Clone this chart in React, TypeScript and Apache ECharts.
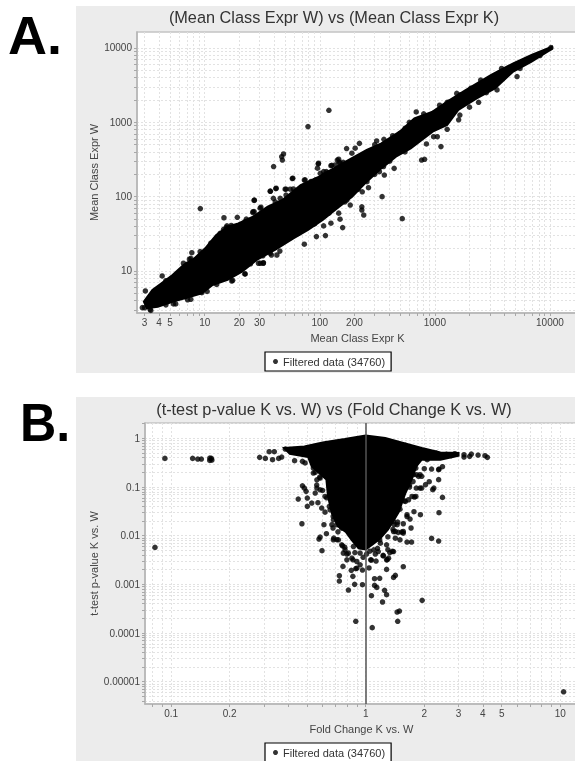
import React, { useEffect, useRef } from "react";
import * as echarts from "echarts";

const LEGEND_NAME = "Filtered data (34760)";
const TITLE_A = "(Mean Class Expr W) vs (Mean Class Expr K)";
const TITLE_B = "(t-test p-value K vs. W) vs (Fold Change K vs. W)";

const xLabelsA = [3, 4, 5, 10, 20, 30, 100, 200, 1000, 10000];
const yLabelsA = [10, 100, 1000, 10000];
const xLabelsB = [0.1, 0.2, 1, 2, 3, 4, 5, 10];
const yLabelsB = [1, 0.1, 0.01, 0.001, 0.0001, 0.00001];

const gridValuesA = [3, 4, 5, 6, 7, 8, 9, 10, 20, 30, 40, 50, 60, 70, 80, 90, 100, 200, 300, 400, 500, 600, 700, 800, 900, 1000, 2000, 3000, 4000, 5000, 6000, 7000, 8000, 9000, 10000];
const gridYValuesA = [3, 4, 5, 6, 7, 8, 9, 10, 20, 30, 40, 50, 60, 70, 80, 90, 100, 200, 300, 400, 500, 600, 700, 800, 900, 1000, 2000, 3000, 4000, 5000, 6000, 7000, 8000, 9000, 10000];
const gridXValuesB = [0.08, 0.09, 0.1, 0.2, 0.3, 0.4, 0.5, 0.6, 0.7, 0.8, 0.9, 1, 2, 3, 4, 5, 6, 7, 8, 9, 10];
const gridYValuesB = [
  1, 2, 0.9, 0.8, 0.7, 0.6, 0.5, 0.4, 0.3, 0.2, 0.1, 0.09, 0.08, 0.07, 0.06, 0.05, 0.04, 0.03, 0.02, 0.01,
  0.009, 0.008, 0.007, 0.006, 0.005, 0.004, 0.003, 0.002, 0.001, 0.0009, 0.0008, 0.0007, 0.0006, 0.0005,
  0.0004, 0.0003, 0.0002, 0.0001, 0.00009, 0.00008, 0.00007, 0.00006, 0.00005, 0.00004, 0.00003, 0.00002,
  0.00001, 0.000009, 0.000008, 0.000007, 0.000006, 0.000005, 0.000004,
];

// Outline of the solid black mass.
const coreA = [
  [2.96, 3.86], [3.51, 5.55], [4.21, 6.82], [5.25, 8.83], [6.53, 12], [8.15, 14.8], [10.1, 20.2], [12.6, 30.5],
  [15.8, 39.5], [19.6, 43.7], [26.3, 53.8], [35.3, 73.3], [47.3, 90.2], [68.2, 143], [98.6, 186], [132, 240],
  [177, 311], [256, 425], [343, 521], [494, 748], [664, 1130], [957, 1390], [1280, 1900], [1850, 2720],
  [3090, 4330], [4800, 6220], [6930, 8050], [10400, 10400], [10400, 9700], [6930, 6550], [4800, 4810],
  [3330, 2860], [2310, 2100], [1600, 1470], [1280, 920], [957, 748], [617, 447], [459, 345], [343, 240],
  [256, 159], [191, 100], [142, 69.7], [106, 48.5], [79, 35.6], [59, 27.5], [40.8, 19.2], [28.3, 14.1],
  [21.1, 9.8], [15.8, 7.57], [11.7, 6.49], [9.44, 5.01], [7.57, 4.52], [5.25, 3.86], [3.91, 3.31], [3.14, 3.15],
];

const pointsA = [
  [3.05, 5.38], [4.27, 8.57], [9.16, 69], [14.7, 52], [19.2, 52.7], [26.9, 89], [37.2, 118], [41.5, 128],
  [39.7, 254], [47.3, 311], [48.4, 375], [46.7, 345], [79, 875], [120, 1450], [689, 1380], [1130, 471],
  [521, 50.6], [348, 100], [767, 311], [814, 318], [232, 73], [232, 66], [241, 56.6], [158, 38.3], [112, 29.9],
  [93.5, 29], [73.4, 22.9], [171, 443], [221, 521], [312, 561], [361, 590], [57.7, 175], [97, 275], [127, 264],
  [142, 311], [147, 290], [845, 512], [1280, 1860], [4240, 5010], [184, 77], [265, 132], [234, 116], [18.2, 9.31],
  [22.4, 9.12], [30.5, 12.7], [32.3, 12.7], [38, 16.4], [443, 240], [364, 195], [1280, 805], [13.6, 32.1],
  [7.57, 14.8], [7.03, 12.3], [6.39, 9.79], [34, 64], [50.9, 126], [59, 127], [50.9, 105], [26.3, 62.8],
  [18.9, 39.5], [15.4, 38.6], [73.4, 167], [91.6, 167], [108, 195], [114, 217], [3.0, 3.2], [3.4, 2.95],
  [3.3, 3.5], [4.6, 3.5], [5.6, 3.6], [7.1, 4.1], [10.5, 5.3], [12.7, 6.6], [17.5, 7.5], [25, 12.5], [32, 16],
  [45, 18.5], [65, 32], [90, 43], [120, 60], [165, 85], [215, 125], [300, 200], [405, 300], [550, 400], [4.6, 7.4],
  [7.6, 13.4], [11, 21], [17, 41], [23, 50], [41, 85], [60, 115], [84, 160], [118, 210], [160, 290], [300, 500],
  [430, 660], [600, 1000], [800, 1300], [1100, 1700], [1550, 2450], [2500, 3700], [3800, 5300], [10200, 10100],
  [1650, 1250], [2000, 1600], [2800, 2500], [3900, 3900], [5500, 5300], [8200, 7900],
  [6.53, 12.7], [7.36, 14.4], [7.73, 17.6], [9.12, 18.2], [11.3, 23.6], [13.8, 31.2], [14.6, 36.4], [15.6, 40.4],
  [22.4, 46.1], [26.9, 62.8], [30.3, 69.8], [2.87, 3.21], [3.35, 3.05], [5.35, 3.6], [6.76, 4.51], [7.57, 4.16],
  [9.44, 5.11], [11.9, 7.57], [13.6, 7.57], [17.2, 7.33], [22.4, 9.12], [20.3, 10.3], [29.3, 12.7], [32.4, 12.9],
  [37.1, 17.3], [42.4, 16.4], [16.6, 8.57], [12.3, 8.22], [203, 448], [190, 384], [146, 319], [150, 287], [125, 261],
  [136, 267], [97.5, 282], [95.5, 241], [101, 206], [108, 217], [74.6, 168], [88, 151], [58.3, 177], [50, 126],
  [41.8, 130], [37.1, 119], [55.3, 126], [39.5, 95], [27, 90], [30.8, 72], [26.2, 61], [45.3, 95], [257, 159],
  [358, 254], [150, 49.7], [146, 60], [125, 43.9], [108, 40.4], [330, 217], [213, 130], [184, 105], [161, 100],
  [172, 90], [552, 834], [653, 973], [962, 1320], [1320, 1860], [1660, 2340], [2060, 2880], [3470, 4340], [5180, 5800],
  [500, 713], [975, 641], [1050, 641], [1610, 1080], [2400, 1860], [3470, 2730], [5180, 4120],
];

const coreB = [
  [0.381, 0.633], [0.484, 0.685], [0.601, 0.828], [0.78, 0.968], [1, 1.15], [1.26, 1.02], [1.56, 0.802],
  [1.94, 0.633], [2.42, 0.515], [3, 0.5], [3, 0.44], [2.42, 0.365], [1.94, 0.365], [1.82, 0.266], [1.72, 0.142],
  [1.6, 0.0753], [1.48, 0.0311], [1.4, 0.0213], [1.3, 0.0133], [1.18, 0.0085], [1.08, 0.0065], [1, 0.0052],
  [0.92, 0.0055], [0.85, 0.008], [0.79, 0.012], [0.72, 0.0156], [0.67, 0.0292], [0.64, 0.0643],
  [0.628, 0.142], [0.528, 0.266], [0.506, 0.413], [0.407, 0.484],
];

const pointsB = [
  [0.0929, 0.388], [0.0826, 0.00575], [0.129, 0.388], [0.137, 0.376], [0.143, 0.376], [0.158, 0.394], [0.161, 0.388],
  [0.158, 0.353], [0.162, 0.359], [0.285, 0.407], [0.305, 0.388], [0.319, 0.532], [0.339, 0.532], [0.332, 0.365],
  [0.357, 0.388], [0.37, 0.413], [0.386, 0.604], [0.431, 0.348], [0.473, 0.337], [0.45, 0.0567], [0.501, 0.0594],
  [0.501, 0.0401], [0.528, 0.0469], [0.568, 0.0476], [0.473, 0.106], [0.484, 0.0953], [0.494, 0.0815], [0.47, 0.0176],
  [0.61, 0.0168], [0.596, 0.00492], [0.575, 0.00855], [0.583, 0.0094], [0.628, 0.011], [0.67, 0.0168], [0.679, 0.0144],
  [0.685, 0.00895], [0.71, 0.00828], [0.764, 0.00234], [0.732, 0.00151], [0.732, 0.00117], [0.815, 0.000765],
  [0.877, 0.001], [0.962, 0.000985], [0.889, 0.000174], [1.08, 0.000129], [1.46, 0.000174], [1.45, 0.00027],
  [1.49, 0.000283], [1.95, 0.000469], [1.22, 0.000434], [1.07, 0.000585], [1.28, 0.000614], [1.25, 0.000753],
  [1.14, 0.000867], [1.11, 0.000953], [1.11, 0.00131], [1.18, 0.00133], [1.39, 0.00139], [1.42, 0.00153],
  [1.56, 0.00231], [1.28, 0.00203], [1.04, 0.00217], [0.962, 0.00197], [0.889, 0.0021], [0.843, 0.00194],
  [0.859, 0.00146], [1.07, 0.00316], [1.13, 0.00301], [1.29, 0.00321], [1.23, 0.00394], [1.37, 0.00476], [1.3, 0.00515],
  [1.72, 0.00741], [1.63, 0.00741], [2.18, 0.00881], [2.37, 0.00777], [1.56, 0.0113], [1.47, 0.0117], [1.71, 0.0144],
  [1.56, 0.0176], [1.4, 0.0168], [1.91, 0.027], [2.38, 0.0297], [1.77, 0.0311], [1.63, 0.027], [1.69, 0.022],
  [2.48, 0.0613], [1.78, 0.0623], [2.21, 0.0881], [2.12, 0.129], [2.37, 0.142], [2.03, 0.112], [2.24, 0.0953],
  [1.9, 0.0953], [1.81, 0.246], [2.0, 0.238], [2.18, 0.234], [2.38, 0.234], [2.48, 0.262], [1.94, 0.166], [2.07, 0.365],
  [1.82, 0.179], [3.2, 0.413], [3.2, 0.462], [3.49, 0.477], [3.78, 0.455], [4.1, 0.44], [4.22, 0.407], [3.42, 0.427],
  [2.87, 0.484], [10.4, 0.0000062], [0.55, 0.2], [0.58, 0.16], [0.56, 0.11], [0.6, 0.085], [0.63, 0.06], [0.65, 0.04],
  [0.68, 0.025], [0.72, 0.012], [0.76, 0.0062], [0.8, 0.0042], [0.78, 0.0058], [0.86, 0.0032], [1.15, 0.0055],
  [1.18, 0.0082], [1.3, 0.0095], [1.38, 0.0135], [1.46, 0.019], [1.5, 0.035], [1.58, 0.052], [1.68, 0.1], [1.75, 0.13],
  [0.594, 0.037], [0.618, 0.0305], [0.538, 0.246], [0.538, 0.194], [0.561, 0.141], [0.583, 0.153], [0.607, 0.337],
  [0.618, 0.265], [0.583, 0.0879], [0.561, 0.0955], [0.55, 0.0753], [0.618, 0.0641], [0.656, 0.0341], [0.682, 0.0212],
  [0.71, 0.0168], [0.753, 0.0143], [0.488, 0.312], [0.469, 0.501], [0.538, 0.395], [0.583, 0.462], [2.37, 0.227],
  [1.87, 0.165], [1.76, 0.179], [1.66, 0.0548], [1.81, 0.0641], [1.63, 0.0248], [1.39, 0.0196], [1.45, 0.0168],
  [1.42, 0.0122], [1.53, 0.0119], [1.94, 0.0955], [1.73, 0.0641], [1.6, 0.0506], [1.42, 0.0341], [1.33, 0.0269],
  [1.68, 0.111], [1.82, 0.0955], [1.69, 0.288], [1.9, 0.179], [0.682, 0.00824], [0.724, 0.00824], [0.767, 0.00439],
  [0.8, 0.00319], [0.815, 0.00439], [0.849, 0.00346], [0.9, 0.00295], [0.936, 0.00252], [0.9, 0.00215], [1.06, 0.00319],
  [1.28, 0.00319], [1.23, 0.00385], [1.31, 0.00346], [1.39, 0.00473], [1.33, 0.00451], [1.1, 0.00513], [1.16, 0.00473],
  [1.19, 0.00703], [1.28, 0.0065], [1.42, 0.0089], [1.5, 0.00824], [1.56, 0.0122], [1.39, 0.0122], [1.14, 0.0104],
  [0.753, 0.0065], [0.783, 0.00513], [0.865, 0.006], [0.936, 0.00439], [0.936, 0.006], [2.6, 0.47], [2.3, 0.5],
  [2.75, 0.44], [1.6, 0.72], [1.01, 0.0042], [0.97, 0.0036], [1.05, 0.0048], [0.88, 0.0045], [1.12, 0.0042],
];

const axisCommon = (labels: number[], gridValues: number[], min: number, max: number, name: string, nameGap: number, dim: string) => ({
  type: "log",
  logBase: 10,
  min,
  max,
  name,
  nameLocation: "middle",
  nameGap,
  nameMoveOverlap: false,
  nameTextStyle: { fontFamily: "Liberation Sans", fontSize: 11, color: "#444" },
  axisLine: { show: true, onZero: false, lineStyle: { color: "#b4b4b4", width: 1.5 } },
  axisTick: { show: true, length: 3, lineStyle: { color: "#a8a8a8" }, customValues: gridValues },
  axisLabel: {
    show: true,
    customValues: labels,
    hideOverlap: false,
    showMinLabel: true,
    showMaxLabel: true,
    margin: dim === "x" ? 4 : 5,
    fontFamily: "Liberation Sans",
    fontSize: 10,
    color: "#444",
    formatter: (v: number) => String(labels.reduce((a, b) => (Math.abs(Math.log10(b) - Math.log10(v)) < Math.abs(Math.log10(a) - Math.log10(v)) ? b : a))),
  },
  splitLine: { show: true, lineStyle: { color: "#e2e2e2", type: [2, 2], width: 1 } },
  minorTick: { show: false },
  minorSplitLine: { show: false },
});

const coreSeries = (core: number[][], idx: number) => ({
  type: "custom",
  name: "Dense core",
  xAxisIndex: idx,
  yAxisIndex: idx,
  silent: true,
  clip: true,
  z: 2,
  data: core,
  encode: { x: 0, y: 1 },
  renderItem: (params: any, api: any) => {
    if (params.dataIndex !== 0) return null;
    return {
      type: "polygon",
      shape: { points: core.map((p) => api.coord(p)) },
      style: { fill: "#000", stroke: "#000", lineWidth: 2 },
    };
  },
});

const legendStyle = { icon: "circle", itemWidth: 5, itemHeight: 5, itemGap: 0, padding: [4, 6, 4, 8], backgroundColor: "#fff", borderColor: "#000", borderWidth: 1.2, borderRadius: 0, selectedMode: false, textStyle: { fontFamily: "Liberation Sans", fontSize: 11, color: "#333" } };
const titleStyle = { fontFamily: "Liberation Sans", fontSize: 16.3, fontWeight: "normal", color: "#333" };

export default function App() {
  const ref = useRef<HTMLDivElement>(null);
  useEffect(() => {
    const chart = echarts.init(ref.current!, undefined, { renderer: "svg" });
    chart.setOption({
      animation: false,
      backgroundColor: "#fff",
      textStyle: { fontFamily: "Liberation Sans" },
      graphic: [
        { type: "rect", z: -10, shape: { x: 76, y: 6, width: 499, height: 367 }, style: { fill: "#ececec" } },
        { type: "rect", z: -10, shape: { x: 76, y: 397, width: 499, height: 364 }, style: { fill: "#ececec" } },
        { type: "text", z: 100, x: 8, y: 8, style: { text: "A.", fill: "#000", font: "bold 54px 'Liberation Sans'" } },
        { type: "text", z: 100, x: 20, y: 395, scaleX: 0.93, style: { text: "B.", fill: "#000", font: "bold 54px 'Liberation Sans'" } },
      ],
      title: [
        { text: TITLE_A, left: 329, top: 4, textAlign: "center", textStyle: titleStyle },
        { text: TITLE_B, left: 329, top: 396, textAlign: "center", textStyle: titleStyle },
      ],
      legend: [
        { data: [LEGEND_NAME], left: 265, top: 352, ...legendStyle },
        { data: [LEGEND_NAME], left: 265, top: 743, ...legendStyle },
      ],
      grid: [
        { left: 137, top: 32, width: 441, height: 281, show: true, outerBoundsMode: "none", backgroundColor: "#fff", borderColor: "#c4c4c4", borderWidth: 1.5, containLabel: false },
        { left: 145, top: 423, width: 433, height: 281, show: true, outerBoundsMode: "none", backgroundColor: "#fff", borderColor: "#c4c4c4", borderWidth: 1.5, containLabel: false },
      ],
      xAxis: [
        { gridIndex: 0, ...axisCommon(xLabelsA, gridValuesA, 2.58, 17540, "Mean Class Expr K", 19, "x") },
        { gridIndex: 1, ...axisCommon(xLabelsB, gridXValuesB, 0.0734, 12.33, "Fold Change K vs. W", 19, "x") },
      ],
      yAxis: [
        { gridIndex: 0, ...axisCommon(yLabelsA, gridYValuesA, 2.72, 16400, "Mean Class Expr W", 38, "y") },
        { gridIndex: 1, ...axisCommon(yLabelsB, gridYValuesB, 0.00000348, 2.07, "t-test p-value K vs. W", 46, "y") },
      ],
      series: [
        coreSeries(coreA, 0),
        { type: "scatter", name: LEGEND_NAME, xAxisIndex: 0, yAxisIndex: 0, data: pointsA, symbol: "circle", symbolSize: 5.5, itemStyle: { color: "#000" }, z: 3 },
        coreSeries(coreB, 1),
        {
          type: "scatter", name: LEGEND_NAME, xAxisIndex: 1, yAxisIndex: 1, data: pointsB, symbol: "circle", symbolSize: 5.5, itemStyle: { color: "#000" }, z: 3,
          markLine: { silent: true, symbol: "none", label: { show: false }, lineStyle: { color: "#555", width: 1.5, type: "solid" }, data: [{ xAxis: 1 }] },
        },
      ],
    });
    return () => chart.dispose();
  }, []);
  return <div ref={ref} style={{ position: "absolute", left: 0, top: 0, width: 575, height: 761, filter: "blur(0.4px)" }} />;
}
